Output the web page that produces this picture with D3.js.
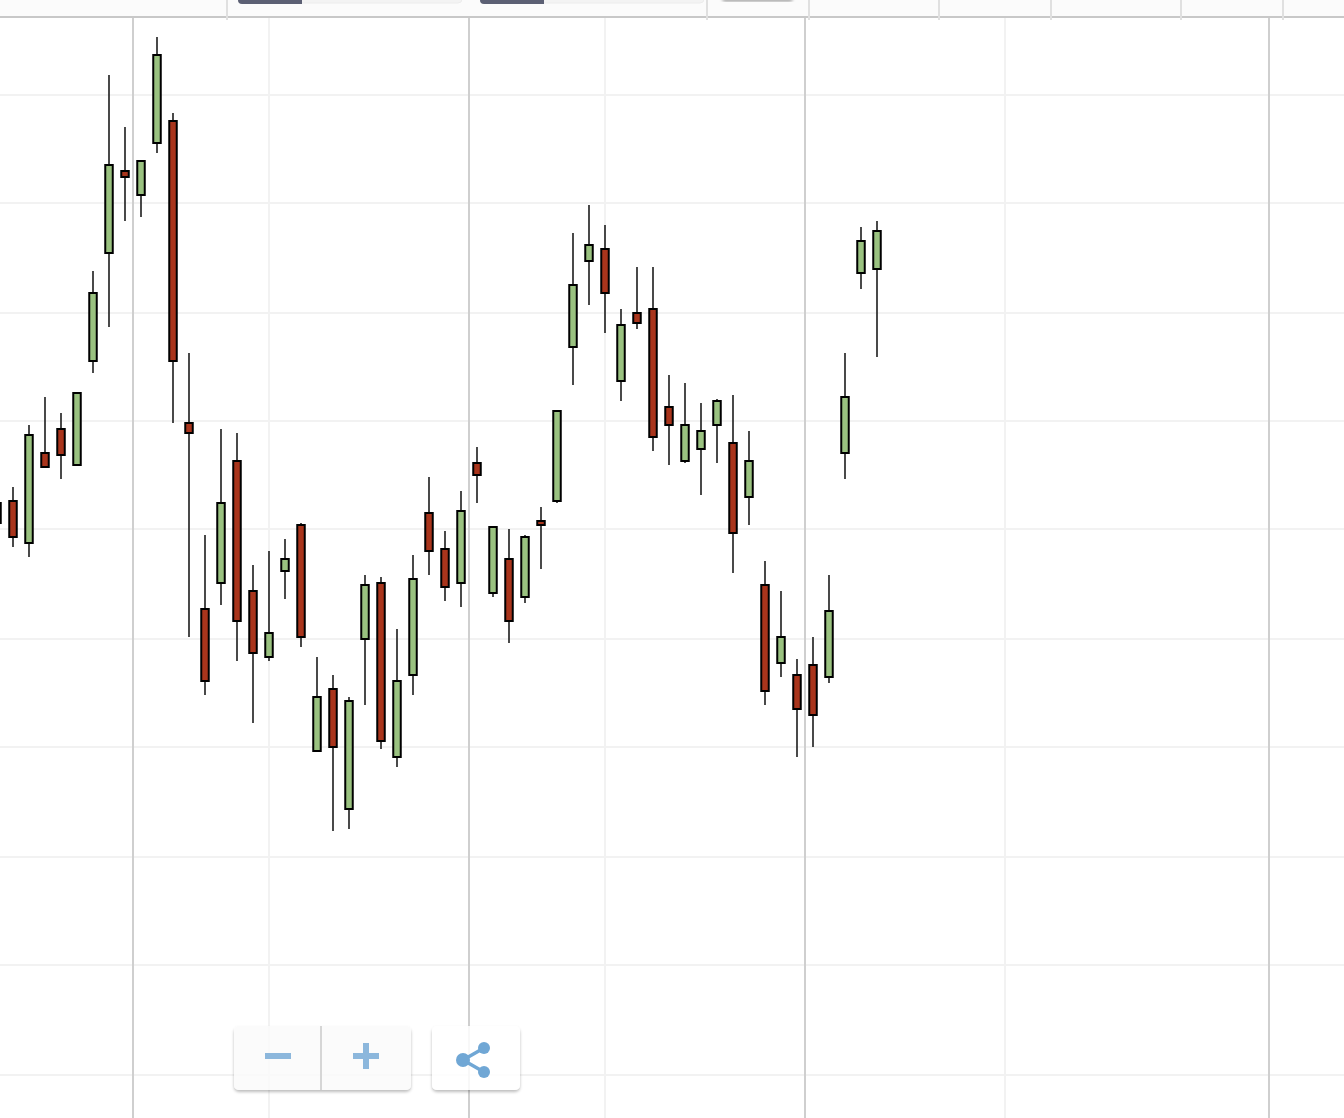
<!DOCTYPE html>
<html>
<head>
<meta charset="utf-8">
<script src="https://cdn.jsdelivr.net/npm/d3@7/dist/d3.min.js"></script>
<style>
html,body{margin:0;padding:0;background:#fff;overflow:hidden}
svg{display:block}
</style>
</head>
<body>
<svg id="chart" width="1344" height="1118"></svg>
<script>
const slot = d3.range(0, 56);
const high  = [157.2,158.8,165.0,167.8,166.2,168.3,180.4,200.0,194.8,191.4,203.8,196.2,172.2,154.0,164.6,164.2,151.0,152.4,153.6,155.2,141.8,140.0,137.8,150.0,149.8,144.6,152.0,159.8,154.4,158.4,162.8,154.9,154.6,154.0,156.8,166.4,184.2,187.0,185.0,176.6,180.8,180.8,170.0,169.2,167.2,167.6,168.0,164.4,151.4,148.4,141.6,143.8,150.0,172.2,184.8,185.4];
const open  = [157.2,157.4,153.2,162.2,164.6,161.0,171.4,182.2,190.4,188.0,193.2,195.4,165.2,146.6,149.2,161.4,148.4,141.8,150.4,155.0,132.4,138.6,126.6,143.6,149.2,131.8,140.0,156.2,152.6,149.2,161.2,148.2,151.6,147.8,155.4,157.4,172.8,181.4,182.6,169.4,176.2,176.6,166.8,161.4,162.6,165.0,163.2,157.8,149.0,141.2,140.0,141.0,139.8,162.2,180.2,180.6];
const close = [155.2,153.8,164.0,160.8,162.0,168.2,178.2,191.0,189.8,191.4,202.0,171.4,164.2,139.4,157.2,145.4,142.2,144.2,151.6,143.8,137.8,132.8,137.4,149.0,133.4,139.4,149.6,152.4,148.8,156.4,160.0,154.8,145.4,153.8,155.0,166.4,179.0,183.0,178.2,175.0,175.2,163.8,165.0,165.0,164.4,167.4,154.2,161.4,138.4,143.8,136.6,136.0,146.4,167.8,183.4,184.4];
const low   = [155.2,152.8,151.8,160.7,159.6,161.0,170.2,174.8,185.4,185.8,192.2,165.2,143.8,138.0,147.0,141.4,135.2,141.4,147.6,142.8,132.4,124.4,124.6,137.0,132.6,130.8,138.0,150.0,147.4,146.8,157.2,147.8,143.2,147.2,150.6,157.2,169.0,177.0,174.2,167.4,174.6,162.4,161.0,161.2,158.0,161.2,150.2,155.0,137.0,139.8,131.8,132.8,139.2,159.6,178.6,171.8];

const priceGrid = [198,187.2,176.2,165.4,154.6,143.6,132.8,121.8,111,100];
const majorSlots = [8.5,29.5,50.5,79.5];
const minorSlots = [17,38,63];
const navTicks = [14.375,44.375,50.75,58.875,65.875,74,80.375];

const width = 1344, height = 1118;
const x = d3.scaleLinear().domain([0,84]).range([-3,1341]);
const y = d3.scaleLinear().domain([207.5,95.7]).range([0,height]);
const svg = d3.select('#chart');

// Shadow only outside the shape, so it does not darken translucent button fills
const defs = svg.append('defs');
const f = defs.append('filter').attr('id','btnShadow').attr('x','-10%').attr('y','-10%').attr('width','120%').attr('height','125%');
f.append('feGaussianBlur').attr('in','SourceAlpha').attr('stdDeviation',1.5).attr('result','b');
f.append('feOffset').attr('in','b').attr('dy',2).attr('result','o');
f.append('feFlood').attr('flood-color','#000').attr('flood-opacity',0.3).attr('result','c');
f.append('feComposite').attr('in','c').attr('in2','o').attr('operator','in').attr('result','s');
f.append('feComposite').attr('in','s').attr('in2','SourceAlpha').attr('operator','out').attr('result','so');
const m = f.append('feMerge');
m.append('feMergeNode').attr('in','so');
m.append('feMergeNode').attr('in','SourceGraphic');

// grid
svg.append('g').selectAll('line').data(priceGrid).join('line')
  .attr('x1',0).attr('x2',width).attr('y1',d=>y(d)).attr('y2',d=>y(d))
  .attr('stroke','#f2f2f2').attr('stroke-width',2);
svg.append('g').selectAll('line').data(minorSlots).join('line')
  .attr('x1',x).attr('x2',x).attr('y1',18).attr('y2',height)
  .attr('stroke','#f2f2f2').attr('stroke-width',2);
svg.append('g').selectAll('line').data(majorSlots).join('line')
  .attr('x1',x).attr('x2',x).attr('y1',18).attr('y2',height)
  .attr('stroke','#cfcfcf').attr('stroke-width',2);

// navigator strip
const nav = svg.append('g');
nav.append('rect').attr('x',0).attr('y',0).attr('width',width).attr('height',17).attr('fill','#fbfbfb');
nav.append('rect').attr('x',0).attr('y',16).attr('width',width).attr('height',2).attr('fill','#c8c8c8');
nav.selectAll('line').data(navTicks).join('line')
  .attr('x1',x).attr('x2',x).attr('y1',0).attr('y2',20)
  .attr('stroke','#e0e0e0').attr('stroke-width',2);
[[238,462,302],[480,704,544]].forEach(([a,b,c])=>{
  nav.append('path').attr('d',`M${a},-6H${b}V-1Q${b},3 ${b-4},3H${a+4}Q${a},3 ${a},-1Z`).attr('fill','#f3f3f3').attr('stroke','#ececec');
  nav.append('path').attr('d',`M${a},-6H${c}V4H${a+4}Q${a},4 ${a},0Z`).attr('fill','#5c6074');
});
nav.append('rect').attr('x',722).attr('y',-10).attr('width',71).attr('height',10).attr('rx',4).attr('fill','#fbfbfb').attr('filter','url(#btnShadow)');

// candles
const candles = svg.append('g').selectAll('g').data(slot).join('g');
candles.append('line')
  .attr('x1',i=>x(i)).attr('x2',i=>x(i))
  .attr('y1',i=>y(high[i])).attr('y2',i=>y(low[i]))
  .attr('stroke','#1c1c1c').attr('stroke-width',1.6);
candles.append('rect')
  .attr('x',i=>x(i)-3.75).attr('width',7.5)
  .attr('y',i=>y(Math.max(open[i],close[i])))
  .attr('height',i=>Math.abs(y(open[i])-y(close[i])))
  .attr('fill',i=>close[i]>=open[i]?'#9ac280':'#a9351c')
  .attr('stroke','#000').attr('stroke-width',2);

// zoom buttons
const btn = svg.append('g');
btn.append('rect').attr('x',234).attr('y',1026).attr('width',177).attr('height',64).attr('rx',5)
  .attr('fill','#fafafa').attr('fill-opacity',0.85).attr('filter','url(#btnShadow)');
btn.append('rect').attr('x',320).attr('y',1026).attr('width',2).attr('height',64).attr('fill','#d6d6d6');
const blue = '#8cb7dc';
btn.append('rect').attr('x',265).attr('y',1053).attr('width',26).attr('height',6).attr('fill',blue);
btn.append('rect').attr('x',353).attr('y',1053).attr('width',26).attr('height',6).attr('fill',blue);
btn.append('rect').attr('x',363).attr('y',1043).attr('width',6).attr('height',26).attr('fill',blue);
btn.append('rect').attr('x',432).attr('y',1026).attr('width',88).attr('height',64).attr('rx',5)
  .attr('fill','#ffffff').attr('fill-opacity',0.85).attr('filter','url(#btnShadow)');
const share = '#70a7d5';
btn.append('path').attr('d','M484,1048L463,1060L484,1072').attr('fill','none').attr('stroke',share).attr('stroke-width',3.5);
btn.append('circle').attr('cx',484).attr('cy',1048).attr('r',6).attr('fill',share);
btn.append('circle').attr('cx',463).attr('cy',1060).attr('r',7).attr('fill',share);
btn.append('circle').attr('cx',484).attr('cy',1072).attr('r',6).attr('fill',share);
</script>
</body>
</html>
